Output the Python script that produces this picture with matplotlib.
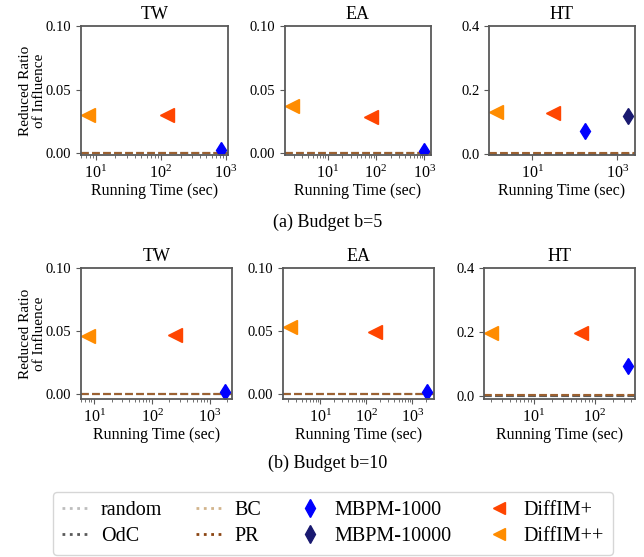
import matplotlib
matplotlib.use("Agg")
import matplotlib.pyplot as plt
from matplotlib.lines import Line2D
import numpy as np

plt.rcParams['font.family'] = ['Liberation Serif', 'DejaVu Serif']
plt.rcParams['mathtext.fontset'] = 'stix'

datasets = ["TW", "EA", "HT"]
budgets = ["(a) Budget b=5", "(b) Budget b=10"]

# baseline methods (reduced ratio, all ~0)
random_vals = [[0.0, 0.0, 0.0], [0.0, 0.0, 0.0]]
odc_vals = [[0.0, 0.0, 0.0], [0.0, 0.0, 0.0]]
bc_vals = [[0.0005, 0.0005, 0.002], [0.0005, 0.0005, 0.002]]
pr_vals = [[0.0002, 0.0002, 0.001], [0.0002, 0.0002, 0.001]]

# (time, ratio); None = not available
mbpm1000_time = [[845, 1000, 178], [1830, 2080, 353]]
mbpm1000_val = [[0.003, 0.002, 0.072], [0.002, 0.002, 0.094]]
mbpm10000_time = [[None, None, 1800], [None, None, None]]
mbpm10000_val = [[None, None, 0.117], [None, None, None]]
diffimp_time = [[124, 78, 31], [248, 154, 60]]
diffimp_val = [[0.030, 0.029, 0.127], [0.047, 0.049, 0.196]]
diffimpp_time = [[7.5, 1.8, 1.4], [7.8, 2.2, 1.97]]
diffimpp_val = [[0.030, 0.037, 0.130], [0.046, 0.053, 0.196]]

ylims = [[(-0.0012, 0.1), (-0.0012, 0.1), (-0.004, 0.4)],
         [(-0.0037, 0.1), (-0.0037, 0.1), (-0.01, 0.4)]]
yticks = [[0, 0.05, 0.10], [0, 0.05, 0.10], [0, 0.2, 0.4]]
ytlabels = [["0.00", "0.05", "0.10"], ["0.00", "0.05", "0.10"], ["0.0", "0.2", "0.4"]]

W, H = 644, 557
fig = plt.figure(figsize=(W / 100, H / 100), dpi=100)

boxes = [[(81, 26, 228, 155), (285, 26, 431, 155), (489, 26, 635, 155)],
         [(81, 268, 232, 399), (283, 268, 434, 399), (484, 268, 635, 399)]]

c_random = '#bdbdbd'
c_odc = '#5a5a5a'
c_bc = '#d2b48c'
c_pr = '#8b4513'
c_m1 = '#0000ff'
c_m2 = '#191970'
c_dp = '#ff4500'
c_dpp = '#ff8c00'

spine_c = '0.35'
for r in range(2):
    for c in range(3):
        l, t, rr, b = boxes[r][c]
        ax = fig.add_axes([l / W, 1 - b / H, (rr - l) / W, (b - t) / H])
        ax.set_xscale('log')
        ax.axhline(random_vals[r][c], color=c_random, ls='--', lw=1.5)
        ax.axhline(odc_vals[r][c], color=c_odc, ls='--', lw=1.5)
        ax.axhline(bc_vals[r][c], color=c_bc, ls='--', lw=1.5)
        ax.axhline(pr_vals[r][c], color=c_pr, ls='--', lw=1.5, alpha=0.75)
        if mbpm1000_time[r][c] is not None:
            ax.plot([mbpm1000_time[r][c]], [mbpm1000_val[r][c]], 'd', color=c_m1, ms=8.5)
        if mbpm10000_time[r][c] is not None:
            ax.plot([mbpm10000_time[r][c]], [mbpm10000_val[r][c]], 'd', color=c_m2, ms=8.5)
        ax.plot([diffimp_time[r][c]], [diffimp_val[r][c]], '<', color=c_dp, ms=9.5)
        ax.plot([diffimpp_time[r][c]], [diffimpp_val[r][c]], '<', color=c_dpp, ms=9.5)
        ax.set_ylim(*ylims[r][c])
        ax.set_yticks(yticks[c])
        ax.set_yticklabels(ytlabels[c])
        ax.tick_params(axis='y', labelsize=10.5, color=spine_c)
        ax.tick_params(axis='x', which='both', labelsize=11.5, color=spine_c)
        for s in ax.spines.values():
            s.set_color(spine_c)
            s.set_linewidth(1.3)
        ax.set_title(datasets[c], fontsize=13, pad=5)
        ax.set_xlabel("Running Time (sec)", fontsize=11.5, labelpad=1)
        if c == 0:
            ax.set_ylabel("Reduced Ratio\nof Influence", fontsize=11, labelpad=0, linespacing=1.1)

fig.text(328 / W, 1 - 222 / H, budgets[0], ha='center', va='center', fontsize=13)
fig.text(328 / W, 1 - 463 / H, budgets[1], ha='center', va='center', fontsize=13)

handles = [
    Line2D([], [], color=c_random, ls=':', lw=2),
    Line2D([], [], color=c_odc, ls=':', lw=2),
    Line2D([], [], color=c_bc, ls=':', lw=2),
    Line2D([], [], color=c_pr, ls=':', lw=2),
    Line2D([], [], color=c_m1, marker='d', ls='none', ms=9),
    Line2D([], [], color=c_m2, marker='d', ls='none', ms=9),
    Line2D([], [], color=c_dp, marker='<', ls='none', ms=9),
    Line2D([], [], color=c_dpp, marker='<', ls='none', ms=9),
]
labels = ["random", "OdC", "BC", "PR", "MBPM-1000", "MBPM-10000", "DiffIM+", "DiffIM++"]
fig.legend(handles, labels, ncol=4, loc='center', fontsize=14.5,
           bbox_to_anchor=(333 / W, 1 - 523.5 / H),
           handlelength=1.45, handletextpad=0.5, columnspacing=1.65,
           labelspacing=0.3, borderpad=0.45, borderaxespad=0, frameon=True)

fig.savefig("out.png", dpi=100)
